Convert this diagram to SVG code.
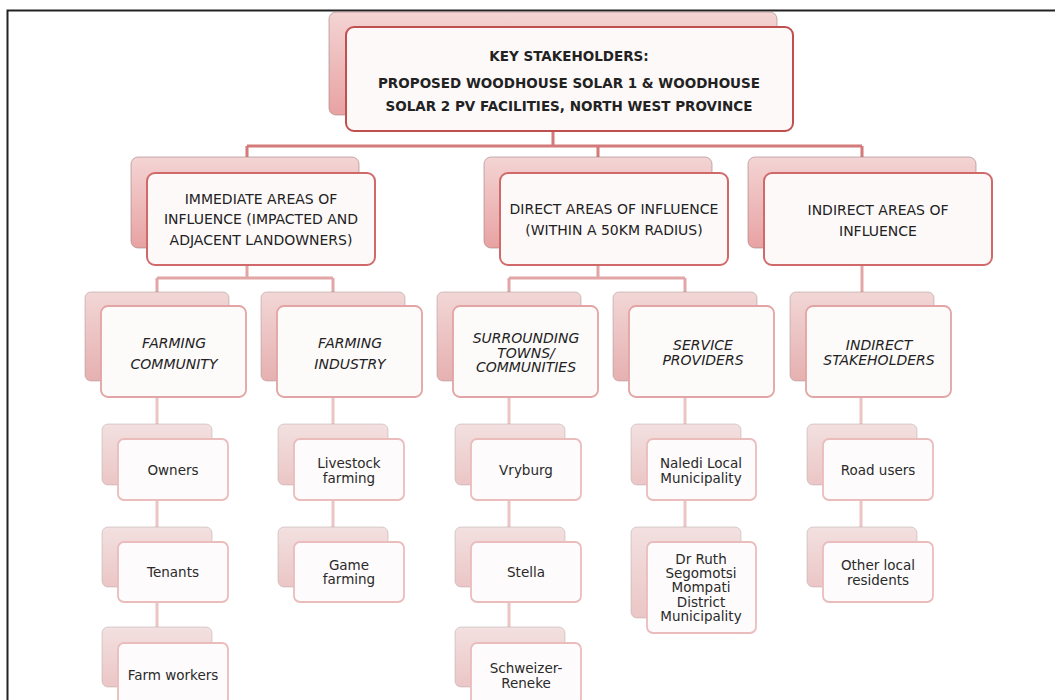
<svg xmlns="http://www.w3.org/2000/svg" width="1055" height="700" viewBox="0 0 1055 700">
<defs>
<linearGradient id="g1" x1="0" y1="0" x2="0" y2="1"><stop offset="0" stop-color="#f4d4d4"/><stop offset="1" stop-color="#e8a2a2"/></linearGradient>
<linearGradient id="g3" x1="0" y1="0" x2="0" y2="1"><stop offset="0" stop-color="#f2d6d6"/><stop offset="1" stop-color="#e6b0b0"/></linearGradient>
<linearGradient id="g4" x1="0" y1="0" x2="0" y2="1"><stop offset="0" stop-color="#f3e0e0"/><stop offset="1" stop-color="#ebc6c6"/></linearGradient>
</defs>
<style>
text{font-family:"DejaVu Sans",Verdana,sans-serif;fill:#222;text-anchor:middle}
.t1{font-size:13.5px;font-weight:bold}
.t2{font-size:14px}
.t3{font-size:14px;font-style:italic}
.t4{font-size:13.5px;fill:#2a2a2a}
.b1{fill:url(#g1);stroke:#a08080;stroke-width:1;stroke-opacity:.6}
.b3{fill:url(#g3);stroke:#a89090;stroke-width:1;stroke-opacity:.5}
.b4{fill:url(#g4);stroke:#b0a0a0;stroke-width:1;stroke-opacity:.45}
.f1{fill:#fdf9f9;stroke:#c0504d;stroke-width:2}
.f2{fill:#fdf9f9;stroke:#d06a6a;stroke-width:2}
.f3{fill:#fdfafa;stroke:#e2a4a4;stroke-width:1.8}
.f4{fill:#fdfbfb;stroke:#ebbcbc;stroke-width:1.8}
.c1{stroke:#d47a7a;stroke-width:3;fill:none}
.c2{stroke:#e2a6a6;stroke-width:3;fill:none}
.c3{stroke:#ebc4c4;stroke-width:3;fill:none}
</style>
<rect width="1055" height="700" fill="#ffffff"/>
<path d="M7.5 700 V10.5 H1055" fill="none" stroke="#222" stroke-width="2"/>
<g id="connectors">
<path class="c1" d="M553 130 V146 M247 146 H862 M247 146 V160 M598 146 V160 M862 146 V160"/>
<path class="c2" d="M247 264 V278 M157 278 H333 M157 278 V293 M333 278 V293"/>
<path class="c2" d="M598 264 V278 M509 278 H685 M509 278 V293 M685 278 V293"/>
<path class="c2" d="M862 264 V293"/>
<path class="c3" d="M157 396 V640 M333 396 V540 M509 396 V640 M685 396 V540 M861 396 V540"/>
</g>
<g id="root">
<rect class="b1" x="329" y="12" width="448" height="103" rx="7"/>
<rect class="f1" x="346" y="27" width="447" height="104" rx="8"/>
<text class="t1" x="569" y="61">KEY STAKEHOLDERS:</text>
<text class="t1" x="569" y="88">PROPOSED WOODHOUSE SOLAR 1 &amp; WOODHOUSE</text>
<text class="t1" x="569" y="111">SOLAR 2 PV FACILITIES, NORTH WEST PROVINCE</text>
</g>
<g id="immediate">
<rect class="b1" x="131" y="157" width="228" height="91" rx="7"/>
<rect class="f2" x="147" y="173" width="228" height="92" rx="8"/>
<text class="t2" x="261" y="203.5">IMMEDIATE AREAS OF</text>
<text class="t2" x="261" y="224">INFLUENCE (IMPACTED AND</text>
<text class="t2" x="261" y="244.5">ADJACENT LANDOWNERS)</text>
</g>
<g id="direct">
<rect class="b1" x="484" y="157" width="228" height="91" rx="7"/>
<rect class="f2" x="500" y="173" width="228" height="92" rx="8"/>
<text class="t2" x="614" y="214">DIRECT AREAS OF INFLUENCE</text>
<text class="t2" x="614" y="235">(WITHIN A 50KM RADIUS)</text>
</g>
<g id="indirect">
<rect class="b1" x="748" y="157" width="228" height="91" rx="7"/>
<rect class="f2" x="764" y="173" width="228" height="92" rx="8"/>
<text class="t2" x="878" y="215">INDIRECT AREAS OF</text>
<text class="t2" x="878" y="236">INFLUENCE</text>
</g>
<g id="farming-community">
<rect class="b3" x="85" y="292" width="144" height="89" rx="6"/>
<rect class="f3" x="101" y="306" width="145" height="91" rx="7"/>
<text class="t3" x="174" y="348">FARMING</text>
<text class="t3" x="174" y="369">COMMUNITY</text>
</g>
<g id="farming-industry">
<rect class="b3" x="261" y="292" width="144" height="89" rx="6"/>
<rect class="f3" x="277" y="306" width="145" height="91" rx="7"/>
<text class="t3" x="350" y="348">FARMING</text>
<text class="t3" x="350" y="369">INDUSTRY</text>
</g>
<g id="surrounding">
<rect class="b3" x="437" y="292" width="144" height="89" rx="6"/>
<rect class="f3" x="453" y="306" width="145" height="91" rx="7"/>
<text class="t3" x="526" y="343">SURROUNDING</text>
<text class="t3" x="526" y="357.5">TOWNS/</text>
<text class="t3" x="526" y="372">COMMUNITIES</text>
</g>
<g id="service">
<rect class="b3" x="613" y="292" width="144" height="89" rx="6"/>
<rect class="f3" x="629" y="306" width="145" height="91" rx="7"/>
<text class="t3" x="703" y="350">SERVICE</text>
<text class="t3" x="703" y="365">PROVIDERS</text>
</g>
<g id="indirect-stakeholders">
<rect class="b3" x="790" y="292" width="144" height="89" rx="6"/>
<rect class="f3" x="806" y="306" width="145" height="91" rx="7"/>
<text class="t3" x="879" y="350">INDIRECT</text>
<text class="t3" x="879" y="365">STAKEHOLDERS</text>
</g>
<g id="owners">
<rect class="b4" x="102" y="424" width="110" height="61" rx="6"/>
<rect class="f4" x="118" y="439" width="110" height="61" rx="6"/>
<text class="t4" x="173" y="475">Owners</text>
</g>
<g id="tenants">
<rect class="b4" x="102" y="527" width="110" height="60" rx="6"/>
<rect class="f4" x="118" y="542" width="110" height="60" rx="6"/>
<text class="t4" x="173" y="577">Tenants</text>
</g>
<g id="farm-workers">
<rect class="b4" x="102" y="627" width="110" height="60" rx="6"/>
<rect class="f4" x="118" y="643" width="110" height="62" rx="6"/>
<text class="t4" x="173" y="680">Farm workers</text>
</g>
<g id="livestock">
<rect class="b4" x="278" y="424" width="110" height="61" rx="6"/>
<rect class="f4" x="294" y="439" width="110" height="61" rx="6"/>
<text class="t4" x="349" y="468">Livestock</text>
<text class="t4" x="349" y="482.5">farming</text>
</g>
<g id="game">
<rect class="b4" x="278" y="527" width="110" height="60" rx="6"/>
<rect class="f4" x="294" y="542" width="110" height="60" rx="6"/>
<text class="t4" x="349" y="569.5">Game</text>
<text class="t4" x="349" y="584">farming</text>
</g>
<g id="vryburg">
<rect class="b4" x="455" y="424" width="110" height="61" rx="6"/>
<rect class="f4" x="471" y="439" width="110" height="61" rx="6"/>
<text class="t4" x="526" y="475">Vryburg</text>
</g>
<g id="stella">
<rect class="b4" x="455" y="527" width="110" height="60" rx="6"/>
<rect class="f4" x="471" y="542" width="110" height="60" rx="6"/>
<text class="t4" x="526" y="577">Stella</text>
</g>
<g id="schweizer">
<rect class="b4" x="455" y="627" width="110" height="60" rx="6"/>
<rect class="f4" x="471" y="643" width="110" height="62" rx="6"/>
<text class="t4" x="526" y="673">Schweizer-</text>
<text class="t4" x="526" y="687.5">Reneke</text>
</g>
<g id="naledi">
<rect class="b4" x="631" y="424" width="110" height="61" rx="6"/>
<rect class="f4" x="647" y="439" width="109" height="61" rx="6"/>
<text class="t4" x="701" y="468">Naledi Local</text>
<text class="t4" x="701" y="482.5">Municipality</text>
</g>
<g id="dr-ruth">
<rect class="b4" x="631" y="527" width="110" height="91" rx="6"/>
<rect class="f4" x="647" y="542" width="109" height="91" rx="6"/>
<text class="t4" x="701" y="564">Dr Ruth</text>
<text class="t4" x="701" y="578.2">Segomotsi</text>
<text class="t4" x="701" y="592.4">Mompati</text>
<text class="t4" x="701" y="606.6">District</text>
<text class="t4" x="701" y="620.8">Municipality</text>
</g>
<g id="road-users">
<rect class="b4" x="807" y="424" width="110" height="61" rx="6"/>
<rect class="f4" x="823" y="439" width="110" height="61" rx="6"/>
<text class="t4" x="878" y="475">Road users</text>
</g>
<g id="other-residents">
<rect class="b4" x="807" y="527" width="110" height="60" rx="6"/>
<rect class="f4" x="823" y="542" width="110" height="60" rx="6"/>
<text class="t4" x="878" y="570">Other local</text>
<text class="t4" x="878" y="584.5">residents</text>
</g>
</svg>
